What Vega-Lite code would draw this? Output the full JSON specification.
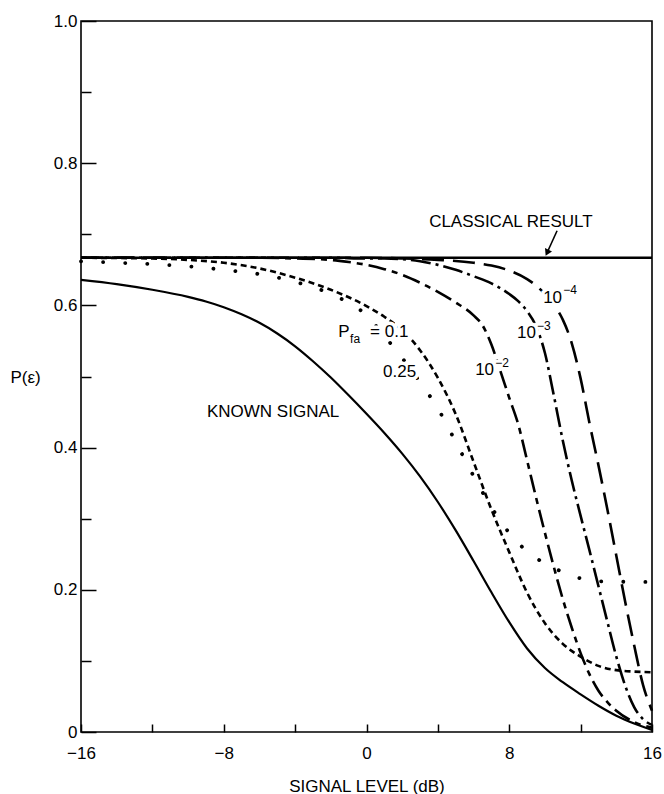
{
  "$schema": "https://vega.github.io/schema/vega-lite/v6.json",
  "width": 571,
  "height": 711,
  "autosize": {"type": "none"},
  "padding": {"left": 81, "top": 21, "right": 12, "bottom": 62},
  "background": "white",
  "config": {
    "view": {"stroke": "black", "strokeWidth": 1.6},
    "font": "Liberation Sans",
    "axis": {"grid": false, "domain": false, "labelColor": "black", "titleColor": "black", "tickColor": "black", "tickWidth": 1.5, "labelFontSize": 17, "titleFontSize": 17, "titleFontWeight": "normal", "labelFlush": false}
  },
  "datasets": {
    "curves": [
      {"s": "classical", "x": -16, "y": 0.667}, {"s": "classical", "x": 16, "y": 0.667},
      {"s": "ks", "x": -16, "y": 0.636}, {"s": "ks", "x": -14, "y": 0.63}, {"s": "ks", "x": -12, "y": 0.622}, {"s": "ks", "x": -10, "y": 0.612}, {"s": "ks", "x": -9, "y": 0.6055}, {"s": "ks", "x": -8, "y": 0.5975}, {"s": "ks", "x": -7, "y": 0.5875}, {"s": "ks", "x": -6, "y": 0.5755}, {"s": "ks", "x": -5, "y": 0.5605}, {"s": "ks", "x": -4, "y": 0.5425}, {"s": "ks", "x": -3, "y": 0.5215}, {"s": "ks", "x": -2, "y": 0.4985}, {"s": "ks", "x": -1, "y": 0.4735}, {"s": "ks", "x": 0, "y": 0.4475}, {"s": "ks", "x": 1, "y": 0.4205}, {"s": "ks", "x": 2, "y": 0.3915}, {"s": "ks", "x": 3, "y": 0.3595}, {"s": "ks", "x": 4, "y": 0.3235}, {"s": "ks", "x": 5, "y": 0.2835}, {"s": "ks", "x": 6, "y": 0.2405}, {"s": "ks", "x": 7, "y": 0.1965}, {"s": "ks", "x": 8, "y": 0.1545}, {"s": "ks", "x": 9, "y": 0.1175}, {"s": "ks", "x": 10, "y": 0.09}, {"s": "ks", "x": 11, "y": 0.07}, {"s": "ks", "x": 12, "y": 0.053}, {"s": "ks", "x": 13, "y": 0.037}, {"s": "ks", "x": 14, "y": 0.023}, {"s": "ks", "x": 15, "y": 0.012}, {"s": "ks", "x": 16, "y": 0.003},
      {"s": "p1", "x": -16, "y": 0.667}, {"s": "p1", "x": -12, "y": 0.666}, {"s": "p1", "x": -10, "y": 0.664}, {"s": "p1", "x": -8, "y": 0.66}, {"s": "p1", "x": -6, "y": 0.652}, {"s": "p1", "x": -4, "y": 0.639}, {"s": "p1", "x": -2, "y": 0.622}, {"s": "p1", "x": 0, "y": 0.599}, {"s": "p1", "x": 1, "y": 0.584}, {"s": "p1", "x": 2, "y": 0.565}, {"s": "p1", "x": 3, "y": 0.537}, {"s": "p1", "x": 4, "y": 0.498}, {"s": "p1", "x": 5, "y": 0.447}, {"s": "p1", "x": 6, "y": 0.38}, {"s": "p1", "x": 7, "y": 0.313}, {"s": "p1", "x": 8, "y": 0.253}, {"s": "p1", "x": 9, "y": 0.196}, {"s": "p1", "x": 10, "y": 0.153}, {"s": "p1", "x": 11, "y": 0.124}, {"s": "p1", "x": 12, "y": 0.106}, {"s": "p1", "x": 13, "y": 0.093}, {"s": "p1", "x": 14, "y": 0.087}, {"s": "p1", "x": 15, "y": 0.085}, {"s": "p1", "x": 16, "y": 0.084},
      {"s": "p25", "x": -16, "y": 0.662}, {"s": "p25", "x": -14, "y": 0.66}, {"s": "p25", "x": -12, "y": 0.658}, {"s": "p25", "x": -10, "y": 0.655}, {"s": "p25", "x": -8, "y": 0.65}, {"s": "p25", "x": -6, "y": 0.644}, {"s": "p25", "x": -4, "y": 0.633}, {"s": "p25", "x": -2, "y": 0.616}, {"s": "p25", "x": 0, "y": 0.586}, {"s": "p25", "x": 1, "y": 0.557}, {"s": "p25", "x": 2, "y": 0.526}, {"s": "p25", "x": 3, "y": 0.492}, {"s": "p25", "x": 4, "y": 0.455}, {"s": "p25", "x": 5, "y": 0.408}, {"s": "p25", "x": 6, "y": 0.36}, {"s": "p25", "x": 7, "y": 0.316}, {"s": "p25", "x": 8, "y": 0.28}, {"s": "p25", "x": 9, "y": 0.254}, {"s": "p25", "x": 10, "y": 0.237}, {"s": "p25", "x": 11, "y": 0.225}, {"s": "p25", "x": 12, "y": 0.216}, {"s": "p25", "x": 13, "y": 0.212}, {"s": "p25", "x": 16, "y": 0.211},
      {"s": "e2", "x": -16, "y": 0.667}, {"s": "e2", "x": -6, "y": 0.667}, {"s": "e2", "x": -4, "y": 0.666}, {"s": "e2", "x": -2, "y": 0.664}, {"s": "e2", "x": -1, "y": 0.661}, {"s": "e2", "x": 0, "y": 0.657}, {"s": "e2", "x": 1, "y": 0.651}, {"s": "e2", "x": 2, "y": 0.643}, {"s": "e2", "x": 3, "y": 0.632}, {"s": "e2", "x": 4, "y": 0.619}, {"s": "e2", "x": 5, "y": 0.604}, {"s": "e2", "x": 6, "y": 0.586}, {"s": "e2", "x": 6.5, "y": 0.572}, {"s": "e2", "x": 7, "y": 0.545}, {"s": "e2", "x": 7.5, "y": 0.508}, {"s": "e2", "x": 8, "y": 0.47}, {"s": "e2", "x": 8.5, "y": 0.433}, {"s": "e2", "x": 9, "y": 0.382}, {"s": "e2", "x": 9.5, "y": 0.33}, {"s": "e2", "x": 10, "y": 0.28}, {"s": "e2", "x": 10.5, "y": 0.232}, {"s": "e2", "x": 11, "y": 0.187}, {"s": "e2", "x": 11.5, "y": 0.147}, {"s": "e2", "x": 12, "y": 0.111}, {"s": "e2", "x": 12.5, "y": 0.081}, {"s": "e2", "x": 13, "y": 0.058}, {"s": "e2", "x": 13.5, "y": 0.042}, {"s": "e2", "x": 14, "y": 0.03}, {"s": "e2", "x": 15, "y": 0.014}, {"s": "e2", "x": 16, "y": 0.006},
      {"s": "e3", "x": -16, "y": 0.667}, {"s": "e3", "x": -2, "y": 0.667}, {"s": "e3", "x": 0, "y": 0.666}, {"s": "e3", "x": 1, "y": 0.666}, {"s": "e3", "x": 2, "y": 0.665}, {"s": "e3", "x": 3, "y": 0.662}, {"s": "e3", "x": 4, "y": 0.657}, {"s": "e3", "x": 5, "y": 0.65}, {"s": "e3", "x": 6, "y": 0.641}, {"s": "e3", "x": 7, "y": 0.631}, {"s": "e3", "x": 8, "y": 0.616}, {"s": "e3", "x": 8.5, "y": 0.606}, {"s": "e3", "x": 9, "y": 0.592}, {"s": "e3", "x": 9.5, "y": 0.571}, {"s": "e3", "x": 10, "y": 0.533}, {"s": "e3", "x": 10.5, "y": 0.473}, {"s": "e3", "x": 11, "y": 0.41}, {"s": "e3", "x": 11.5, "y": 0.354}, {"s": "e3", "x": 12, "y": 0.304}, {"s": "e3", "x": 12.5, "y": 0.255}, {"s": "e3", "x": 13, "y": 0.205}, {"s": "e3", "x": 13.5, "y": 0.155}, {"s": "e3", "x": 14, "y": 0.106}, {"s": "e3", "x": 14.5, "y": 0.065}, {"s": "e3", "x": 15, "y": 0.035}, {"s": "e3", "x": 15.5, "y": 0.018}, {"s": "e3", "x": 16, "y": 0.01},
      {"s": "e4", "x": -16, "y": 0.667}, {"s": "e4", "x": 0, "y": 0.667}, {"s": "e4", "x": 2, "y": 0.666}, {"s": "e4", "x": 4, "y": 0.664}, {"s": "e4", "x": 6, "y": 0.66}, {"s": "e4", "x": 7, "y": 0.656}, {"s": "e4", "x": 8, "y": 0.649}, {"s": "e4", "x": 9, "y": 0.637}, {"s": "e4", "x": 9.5, "y": 0.628}, {"s": "e4", "x": 10, "y": 0.616}, {"s": "e4", "x": 10.5, "y": 0.601}, {"s": "e4", "x": 11, "y": 0.58}, {"s": "e4", "x": 11.5, "y": 0.547}, {"s": "e4", "x": 12, "y": 0.497}, {"s": "e4", "x": 12.5, "y": 0.434}, {"s": "e4", "x": 13, "y": 0.375}, {"s": "e4", "x": 13.5, "y": 0.313}, {"s": "e4", "x": 14, "y": 0.248}, {"s": "e4", "x": 14.5, "y": 0.183}, {"s": "e4", "x": 15, "y": 0.122}, {"s": "e4", "x": 15.5, "y": 0.066}, {"s": "e4", "x": 16, "y": 0.03}
    ],
    "labels": [
      {"k": "main", "t": "CLASSICAL RESULT", "x": 3.51, "y": 0.71},
      {"k": "main", "t": "KNOWN SIGNAL", "x": -8.94, "y": 0.443},
      {"k": "main", "t": "P", "x": -1.59, "y": 0.556},
      {"k": "main", "t": "= 0.1", "x": 0.2, "y": 0.556},
      {"k": "main", "t": "0.25", "x": 0.93, "y": 0.499},
      {"k": "main", "t": "10", "x": 6.09, "y": 0.502},
      {"k": "main", "t": "10", "x": 8.44, "y": 0.554},
      {"k": "main", "t": "10", "x": 9.9, "y": 0.603},
      {"k": "sub", "t": "fa", "x": -0.92, "y": 0.547},
      {"k": "sub", "t": "−2", "x": 7.22, "y": 0.514},
      {"k": "sub", "t": "−3", "x": 9.55, "y": 0.566},
      {"k": "sub", "t": "−4", "x": 11.02, "y": 0.616}
    ],
    "arrow": [{"x": 10.68, "y": 0.705, "x2": 10.12, "y2": 0.674}]
  },
  "encoding": {
    "x": {"field": "x", "type": "quantitative", "scale": {"domain": [-16, 16], "nice": false, "zero": false},
      "axis": {"values": [-16, -12, -8, -4, 0, 4, 8, 12, 16], "labelExpr": "datum.value % 8 == 0 ? replace(format(datum.value, 'd'), '-', '−') : ''", "tickSize": -8, "labelPadding": 21, "title": "SIGNAL LEVEL (dB)", "titleY": 59, "titleBaseline": "alphabetic"}},
    "y": {"field": "y", "type": "quantitative", "scale": {"domain": [0, 1], "nice": false, "zero": false},
      "axis": {"values": [0, 0.1, 0.2, 0.3, 0.4, 0.5, 0.6, 0.7, 0.8, 0.9, 1], "labelExpr": "datum.value == 0 ? '0' : (round(datum.value * 10) % 2 == 0 ? format(datum.value, '.1f') : '')", "tickSize": {"condition": {"test": "round(datum.value * 10) % 2 == 0", "value": -15}, "value": -10}, "labelPadding": 19, "title": "P(ε)", "titleAngle": 0, "titleX": -71, "titleY": 356, "titleAlign": "left", "titleBaseline": "middle"}}
  },
  "layer": [
    {"data": {"name": "curves"}, "transform": [{"filter": "datum.s == 'classical'"}], "mark": {"type": "line", "color": "black", "strokeWidth": 2.6}},
    {"data": {"name": "curves"}, "transform": [{"filter": "datum.s == 'ks'"}], "mark": {"type": "line", "color": "black", "strokeWidth": 2.2, "interpolate": "monotone"}},
    {"data": {"name": "curves"}, "transform": [{"filter": "datum.s == 'p1'"}], "mark": {"type": "line", "color": "black", "strokeWidth": 2.6, "strokeDash": [6, 4], "interpolate": "monotone"}},
    {"data": {"name": "curves"}, "transform": [{"filter": "datum.s == 'p25'"}], "mark": {"type": "line", "color": "black", "strokeWidth": 3.8, "strokeDash": [0.1, 22], "strokeCap": "round", "interpolate": "monotone"}},
    {"data": {"name": "curves"}, "transform": [{"filter": "datum.s == 'e2'"}], "mark": {"type": "line", "color": "black", "strokeWidth": 2.6, "strokeDash": [18, 6, 6, 6], "interpolate": "monotone"}},
    {"data": {"name": "curves"}, "transform": [{"filter": "datum.s == 'e3'"}], "mark": {"type": "line", "color": "black", "strokeWidth": 2.6, "strokeDash": [20, 5, 3, 5], "interpolate": "monotone"}},
    {"data": {"name": "curves"}, "transform": [{"filter": "datum.s == 'e4'"}], "mark": {"type": "line", "color": "black", "strokeWidth": 2.6, "strokeDash": [22, 9], "interpolate": "monotone"}},
    {"data": {"name": "labels"}, "transform": [{"filter": "datum.k == 'main'"}], "mark": {"type": "text", "align": "left", "baseline": "alphabetic", "fontSize": 17, "stroke": "white", "strokeWidth": 7, "fill": "white"}, "encoding": {"text": {"field": "t"}}},
    {"data": {"name": "labels"}, "transform": [{"filter": "datum.k == 'sub'"}], "mark": {"type": "text", "align": "left", "baseline": "alphabetic", "fontSize": 12, "stroke": "white", "strokeWidth": 6, "fill": "white"}, "encoding": {"text": {"field": "t"}}},
    {"data": {"name": "labels"}, "transform": [{"filter": "datum.k == 'main'"}], "mark": {"type": "text", "align": "left", "baseline": "alphabetic", "fontSize": 17, "color": "black"}, "encoding": {"text": {"field": "t"}}},
    {"data": {"name": "labels"}, "transform": [{"filter": "datum.k == 'sub'"}], "mark": {"type": "text", "align": "left", "baseline": "alphabetic", "fontSize": 12, "color": "black"}, "encoding": {"text": {"field": "t"}}},
    {"data": {"name": "arrow"}, "mark": {"type": "rule", "color": "black", "strokeWidth": 1.6}, "encoding": {"x2": {"field": "x2"}, "y2": {"field": "y2"}}},
    {"data": {"name": "arrow"}, "mark": {"type": "point", "shape": "triangle-down", "filled": true, "color": "black", "opacity": 1, "size": 60, "angle": 25}, "encoding": {"x": {"field": "x2", "type": "quantitative"}, "y": {"field": "y2", "type": "quantitative"}}}
  ]
}
